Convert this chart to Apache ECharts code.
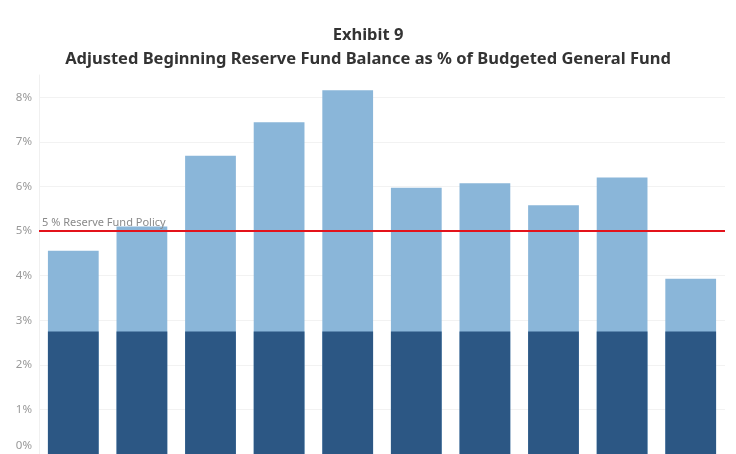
<!DOCTYPE html>
<html>
<head>
<meta charset="utf-8">
<script src="https://cdn.jsdelivr.net/npm/echarts@6/dist/echarts.min.js"></script>
<style>
html,body{margin:0;padding:0;background:#fff;}
#chart{width:736px;height:454px;}
</style>
</head>
<body>
<div id="chart"></div>
<script>
const titleLine1 = 'Exhibit 9';
const titleLine2 = 'Adjusted Beginning Reserve Fund Balance as % of Budgeted General Fund';
const categories = ['1','2','3','4','5','6','7','8','9','10'];
const totalBalance = [4.56, 5.10, 6.69, 7.44, 8.16, 5.97, 6.07, 5.58, 6.20, 3.93];
const baseReserve = [2.75, 2.75, 2.75, 2.75, 2.75, 2.75, 2.75, 2.75, 2.75, 2.75];
const policyValue = 5;
const policyLabel = '5 % Reserve Fund Policy';

const chart = echarts.init(document.getElementById('chart'), null, {renderer:'canvas'});
const gridColors = ['#f2f2f2','#f2f2f2','#f2f2f2','#f2f2f2','#f2f2f2','#f2f2f2','#f2f2f2','#f2f2f2','#f2f2f2','transparent'];
chart.setOption({
  animation:false,
  backgroundColor:'#ffffff',
  title:{
    text: titleLine1 + '\n' + titleLine2,
    left:'center',
    top:18,
    textStyle:{fontFamily:'Noto Sans',fontWeight:'bold',fontSize:16.5,color:'#333333',lineHeight:24}
  },
  grid:{left:39,right:11,top:75,bottom:0,containLabel:false},
  xAxis:{
    type:'category',
    data:categories,
    axisLine:{show:false},
    axisTick:{show:false},
    axisLabel:{show:false}
  },
  yAxis:{
    type:'value',
    min:0,max:8.5,interval:1,
    axisLine:{show:true,lineStyle:{color:'#f0f0f0',width:1}},
    axisTick:{show:false},
    splitLine:{show:true,lineStyle:{color:gridColors,width:1}},
    axisLabel:{
      showMaxLabel:false,
      margin:7,
      color:'#999999',
      fontFamily:'Noto Sans',
      fontSize:11.5,
      formatter:function(v){
        if (v === 0) return '{z|0%}';
        if (Math.abs(v-Math.round(v))>1e-6) return '';
        return v + '%';
      },
      rich:{z:{color:'#999999',fontFamily:'Noto Sans',fontSize:11.5,padding:[0,0,16,0]}}
    }
  },
  series:[
    {
      name:'Adjusted Beginning Balance',
      type:'bar',
      data:totalBalance,
      barCategoryGap:'26%',
      itemStyle:{color:'#8ab6d9'},
      z:2
    },
    {
      name:'Base',
      type:'bar',
      data:baseReserve,
      barGap:'-100%',
      barCategoryGap:'26%',
      itemStyle:{color:'#2c5784'},
      z:3,
      markLine:{
        silent:true,
        symbol:['none','none'],
        data:[{yAxis:policyValue}],
        lineStyle:{color:'#e3131b',width:2,type:'solid'},
        label:{
          show:true,
          position:'insideStartTop',
          formatter:policyLabel,
          color:'#8a8a8a',
          fontFamily:'Noto Sans',
          fontSize:11,
          distance:[3,3]
        }
      }
    }
  ]
});
</script>
</body>
</html>
